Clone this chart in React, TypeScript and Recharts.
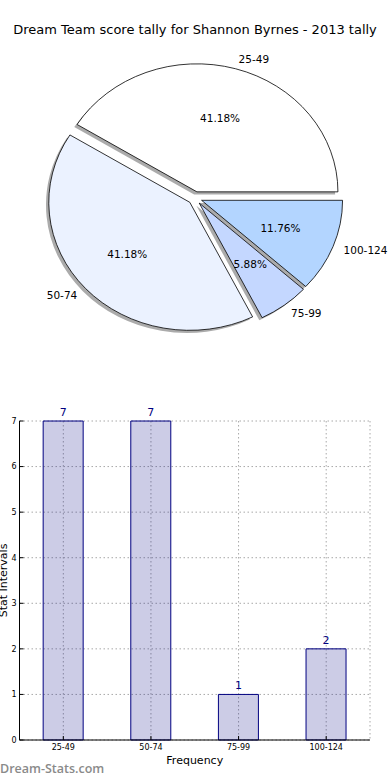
import React from "react";
import {
  PieChart,
  Pie,
  BarChart,
  Bar,
  XAxis,
  YAxis,
  CartesianGrid,
  LabelList,
  Cell,
} from "recharts";

const categories = ["25-49", "50-74", "75-99", "100-124"];
const counts = [7, 7, 1, 2];
const sliceColors = ["#ffffff", "#ebf2ff", "#c4d7ff", "#b3d5ff"];
const yTicks = [0, 1, 2, 3, 4, 5, 6, 7];

const data = categories.map((name, i) => ({ name, value: counts[i] }));

const FONT = "DejaVu Sans, sans-serif";
const RAD = Math.PI / 180;
// matplotlib axes were not square, so the pie is a bit squashed
const SQUASH = 128 / 141;
const EXPLODE = 0.05;

const explodedCenter = (cx: number, cy: number, r: number, mid: number) => ({
  ox: cx + EXPLODE * r * Math.cos(mid * RAD),
  oy: cy - EXPLODE * r * SQUASH * Math.sin(mid * RAD),
});

function wedgePath(p: any, shiftX = 0, shiftY = 0) {
  const { cx, cy, outerRadius: r, startAngle, endAngle, midAngle } = p;
  const ry = r * SQUASH;
  const c = explodedCenter(cx, cy, r, midAngle);
  const ox = c.ox + shiftX;
  const oy = c.oy + shiftY;
  const pt = (a: number) => [ox + r * Math.cos(a * RAD), oy - ry * Math.sin(a * RAD)];
  const [x1, y1] = pt(startAngle);
  const [x2, y2] = pt(endAngle);
  const large = Math.abs(endAngle - startAngle) > 180 ? 1 : 0;
  return `M${ox},${oy} L${x1},${y1} A${r},${ry} 0 ${large} 0 ${x2},${y2} Z`;
}

const ShadowWedge = (props: any) => (
  <path d={wedgePath(props, -2.8, 2.6)} fill="#000" fillOpacity={0.33} stroke="none" />
);

const Wedge = (props: any) => (
  <path d={wedgePath(props)} fill={props.fill} stroke="#000" strokeWidth={0.8} />
);

const renderLabels = (props: any) => {
  const { cx, cy, outerRadius: r, midAngle, percent, name } = props;
  const { ox, oy } = explodedCenter(cx, cy, r, midAngle);
  const cos = Math.cos(midAngle * RAD);
  const sin = Math.sin(midAngle * RAD);
  const ry = r * SQUASH;
  return (
    <g>
      <text
        x={ox + 1.08 * r * cos}
        y={oy - 1.08 * ry * sin}
        textAnchor={cos > 0 ? "start" : "end"}
        dominantBaseline="central"
        fontSize={10.5}
        fontFamily={FONT}
        fill="#000"
      >
        {name}
      </text>
      <text
        x={ox + 0.6 * r * cos}
        y={oy - 0.6 * ry * sin}
        textAnchor="middle"
        dominantBaseline="central"
        fontSize={10.5}
        fontFamily={FONT}
        fill="#000"
      >
        {(percent * 100).toFixed(2)}%
      </text>
    </g>
  );
};

const blank = () => "";

export default function App() {
  return (
    <div style={{ position: "absolute", left: 0, top: 0, width: 390, height: 780, background: "#fff", fontFamily: FONT }}>
      <div style={{ position: "absolute", left: 0, top: 0 }}>
        <PieChart width={390} height={390} margin={{ top: 0, right: 0, bottom: 0, left: 0 }}>
          <text x={195} y={34} textAnchor="middle" fontSize={13} fontFamily={FONT} fill="#000">
            Dream Team score tally for Shannon Byrnes - 2013 tally
          </text>
          <Pie
            data={data}
            dataKey="value"
            nameKey="name"
            cx={195}
            cy={198}
            outerRadius={141}
            startAngle={0}
            endAngle={360}
            stroke="none"
            shape={ShadowWedge}
            isAnimationActive={false}
          />
          <Pie
            data={data}
            dataKey="value"
            nameKey="name"
            cx={195}
            cy={198}
            outerRadius={141}
            startAngle={0}
            endAngle={360}
            shape={Wedge}
            label={renderLabels}
            labelLine={false}
            isAnimationActive={false}
          >
            {data.map((d, i) => (
              <Cell key={d.name} fill={sliceColors[i]} />
            ))}
          </Pie>
        </PieChart>
      </div>

      <div style={{ position: "absolute", left: 0, top: 400 }}>
        <BarChart
          width={390}
          height={380}
          data={data}
          margin={{ top: 21, right: 20, bottom: 0, left: 0 }}
          barCategoryGap="27%"
        >
          <CartesianGrid stroke="#a8a8a8" strokeDasharray="1.5 2.5" />
          <XAxis
            dataKey="name"
            height={40}
            tickSize={-4}
            tickMargin={8}
            tick={{ fontSize: 8, fill: "#000", fontFamily: FONT }}
            axisLine={{ stroke: "#000" }}
            tickLine={{ stroke: "#000" }}
            label={{ value: "Frequency", position: "insideBottom", offset: 16, fontSize: 11, fill: "#000", fontFamily: FONT }}
          />
          <XAxis
            xAxisId="top"
            dataKey="name"
            orientation="top"
            height={0}
            tickSize={-4}
            tickFormatter={blank}
            axisLine={{ stroke: "#000" }}
            tickLine={{ stroke: "#000" }}
          />
          <YAxis
            width={19.5}
            domain={[0, 7]}
            ticks={yTicks}
            tickSize={-4}
            tickMargin={7}
            tick={{ fontSize: 8, fill: "#000", fontFamily: FONT }}
            axisLine={{ stroke: "#000" }}
            tickLine={{ stroke: "#000" }}
            label={{ value: "Stat Intervals", angle: -90, position: "center", dx: -7, fontSize: 11, fill: "#000", fontFamily: FONT }}
          />
          <YAxis
            yAxisId="right"
            orientation="right"
            width={0}
            domain={[0, 7]}
            ticks={yTicks}
            tickSize={-4}
            tickFormatter={blank}
            axisLine={{ stroke: "#000" }}
            tickLine={{ stroke: "#000" }}
          />
          <Bar dataKey="value" fill="#000080" fillOpacity={0.2} stroke="#000080" strokeWidth={1} isAnimationActive={false}>
            <LabelList dataKey="value" position="top" offset={5} fill="#000080" fontSize={11} fontFamily={FONT} />
          </Bar>
        </BarChart>
      </div>

      <div
        style={{
          position: "absolute",
          left: 0,
          top: 761,
          fontSize: 12.5,
          fontWeight: 600,
          color: "#8a8a8a",
          fontFamily: "'Open Sans', sans-serif",
          lineHeight: "16px",
        }}
      >
        Dream-Stats.com
      </div>
    </div>
  );
}
